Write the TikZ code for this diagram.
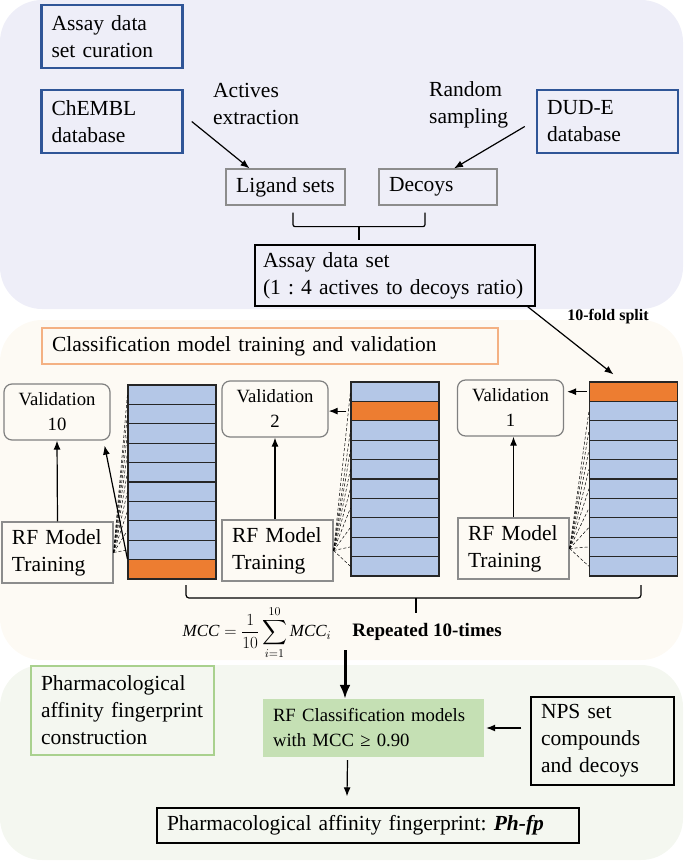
\documentclass[tikz,border=0pt]{standalone}
\usepackage{fix-cm}
\usepackage{amsmath}
\usepackage{fontspec}
\setmainfont{Liberation Serif}
\usetikzlibrary{positioning}
\usetikzlibrary{calc}
\usetikzlibrary{arrows.meta}
\definecolor{toppanel}{HTML}{EEEEF8}
\definecolor{midpanel}{HTML}{FDFAF4}
\definecolor{botpanel}{HTML}{F4F7F0}
\definecolor{headblue}{HTML}{2F5597}
\definecolor{headorange}{HTML}{F4B183}
\definecolor{headgreen}{HTML}{A9D18E}
\definecolor{modelgreen}{HTML}{C5E0B4}
\definecolor{cellblue}{HTML}{B4C7E7}
\definecolor{cellorange}{HTML}{ED7D31}
\tikzstyle{panel}=[rounded corners=42pt]
\tikzstyle{header}=[draw=headblue, line width=2.5pt, align=left, text width=121pt, inner xsep=10pt, inner ysep=3pt, minimum height=63pt]
\tikzstyle{greybox}=[draw=black!45, line width=1.2pt, inner ysep=3pt, minimum height=36pt]
\tikzstyle{plainbox}=[draw=black, line width=1.3pt, align=left, inner xsep=10pt, inner ysep=3pt]
\tikzstyle{valbox}=[draw=black!50, line width=1.2pt, rounded corners=8pt, align=center, minimum width=106pt, minimum height=56pt, font=\fontsize{18.7}{25}\selectfont]
\tikzstyle{rfbox}=[draw=black!45, line width=1.2pt, align=left, text width=91pt, inner xsep=10pt, inner ysep=3pt, minimum height=61pt]
\tikzstyle{cell}=[draw=black!85, line width=1.1pt, minimum width=88pt, minimum height=19.4pt, inner sep=0pt]
\tikzstyle{link}=[-{Latex[length=9pt,width=7pt]}, line width=1.2pt]
\tikzstyle{bigarrow}=[-{Latex[length=14pt,width=11pt]}, line width=3pt]
\tikzstyle{fan}=[densely dashed, line width=0.5pt]
\frenchspacing

\begin{document}
\begin{tikzpicture}[x=1pt, y=-1pt, font=\fontsize{21.5}{27}\selectfont]
    \useasboundingbox (0,0) rectangle (685,861);

    % panels
    \fill[toppanel, panel] (0,0) rectangle (683,309);
    \fill[midpanel, panel] (0,320) rectangle (683,660);
    \fill[botpanel, panel] (0,665) rectangle (683,860);

    % assay data set curation
    \node[header] (curation) at (112,36.5)  {Assay data\\set curation};
    \node[header] (chembl)   at (112,121.5) {ChEMBL\\database};
    \node[header] (dude)     at (607.5,121.5) {DUD-E\\database};
    \node[align=left, anchor=west, inner sep=0pt] (actives) at (213,104) {Actives\\extraction};
    \node[align=left, anchor=west, inner sep=0pt] (random)  at (429,105) {Random\\sampling};
    \node[greybox, minimum width=119pt] (ligand) at (285.5,187) {Ligand sets};
    \node[greybox, text width=98pt, inner xsep=10pt, align=left] (decoys) at (438,187) {Decoys};
    \node[plainbox, text width=264pt, inner xsep=8pt, minimum height=61pt] (assay) at (395,275.5) {Assay data set\\(1 : 4 actives to decoys ratio)};
    \node[font=\bfseries\fontsize{16}{19}\selectfont] (split) at (608,317) {10-fold split};

    \draw[link] ([xshift=8pt]chembl.east) to ([xshift=-36pt]ligand.north);
    \draw[link] ([xshift=-11pt,yshift=-5pt]dude.west) to ([xshift=16pt]decoys.north);
    \draw[line width=1.2pt, rounded corners=2pt] ([xshift=7.5pt,yshift=-7pt]ligand.south) -- ++(0,14) -| ([xshift=-13pt,yshift=-7pt]decoys.south);
    \coordinate (topbrace) at (359,226);
    \draw[line width=1.2pt] (topbrace) -- ++(0,14);

    % classification model training and validation
    \node[draw=headorange, line width=2.5pt, text width=436pt, inner xsep=10pt, inner ysep=3pt, minimum height=36pt, align=left] (training) at (270,346) {Classification model training and validation};

    \node[valbox] (vala) at (57,412)    {Validation\\10};
    \node[valbox] (valb) at (275,409)   {Validation\\2};
    \node[valbox] (valc) at (510.5,408) {Validation\\1};
    \node[rfbox] (rfa) at (57.5,552.5)  {RF Model\\Training};
    \node[rfbox] (rfb) at (277.5,550.5) {RF Model\\Training};
    \node[rfbox] (rfc) at (513.5,548.5) {RF Model\\Training};

    \foreach \c/\x/\y/\o in {a/172/385/10, b/395/382/2, c/633.5/382/1}
      \foreach \i in {1,...,10}{
        \ifnum\i=\o \def\cellfill{cellorange}\else \def\cellfill{cellblue}\fi
        \node[cell, fill=\cellfill] (cell\c\i) at (\x,{\y+19.4*(\i-0.5)}) {};
      }

    \foreach \c/\o in {a/10, b/2, c/1}
      \foreach \i in {1,...,10}{
        \ifnum\i=\o\relax\else \draw[fan] (rf\c.east) -- (cell\c\i.west);\fi
      }

    \draw[link] (rfa.north) -- (vala.south);
    \draw[link] (cella10.north west) -- ([xshift=-6pt,yshift=-5pt]vala.south east);
    \draw[link] (valb.south |- rfb.north) -- (valb.south);
    \draw[link] ([xshift=-4pt]cellb2.west) -- (valb.east |- cellb2.west);
    \draw[link] (rfc.north) -- (rfc.north |- valc.south);
    \draw[link] ([xshift=-2pt]cellc1.west) -- ($(valc.east |- cellc1.west)+(3,0)$);
    \draw[link] ([xshift=-8pt]assay.south east) -- ([xshift=-20pt,yshift=7pt]cellc1.north);

    \coordinate (bracel) at (186,585);
    \coordinate (bracer) at (641,585);
    \coordinate (bracem) at (416,598);
    \draw[line width=1.2pt, rounded corners=3pt] (bracel) -- ++(0,13) -| (bracer);
    \draw[line width=1.2pt] (bracem) -- ++(0,15);

    \node[inner sep=0pt] (mcc) at (257,632.5) {\fontsize{17}{20}\selectfont$\displaystyle \mathit{MCC}=\frac{1}{10}\sum_{i=1}^{10}\mathit{MCC}_i$};
    \node[font=\bfseries\fontsize{19}{22}\selectfont] (repeated) at (427,632) {Repeated 10-times};

    % fingerprint construction
    \node[draw=headgreen, line width=2.5pt, text width=163pt, inner xsep=10pt, inner ysep=3pt, minimum height=89pt, align=left] (construct) at (122.5,710.5) {Pharmacological\\affinity fingerprint\\construction};
    \node[fill=modelgreen, text width=201pt, inner xsep=10pt, inner ysep=3pt, minimum height=58pt, align=left, font=\fontsize{18.7}{25}\selectfont] (rfclass) at (373.5,728) {RF Classification models\\with MCC ≥ 0.90};
    \node[plainbox, text width=123pt, minimum height=88pt] (nps) at (602.5,741) {NPS set\\compounds\\and decoys};
    \node[plainbox, text width=402pt, minimum height=35pt] (fpfinal) at (368,825.5) {Pharmacological affinity fingerprint: \textbf{\textit{Ph-fp}}};

    \coordinate (mccdown) at (345,650);
    \draw[bigarrow] (mccdown) -- ([xshift=-28.5pt]rfclass.north);
    \draw[link] ($(nps.west |- rfclass.east)+(-9,0)$) -- ([xshift=2pt]rfclass.east);
    \draw[link] ([xshift=-26pt,yshift=-3pt]rfclass.south) -- ([xshift=-21pt,yshift=11pt]fpfinal.north);
\end{tikzpicture}
\end{document}
